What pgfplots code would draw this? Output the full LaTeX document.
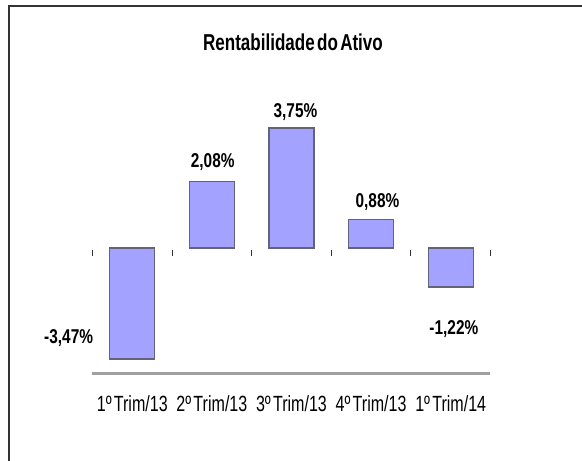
\documentclass[border=0pt]{standalone}
\usepackage{fontspec}
\setmainfont{Liberation Sans}
\newfontfamily\titlefont{Liberation Sans}[FakeStretch=0.74,WordSpace=0.5]
\newfontfamily\labelfont{Liberation Sans}[FakeStretch=0.77]
\newfontfamily\tickfont{Liberation Sans}[FakeStretch=0.73,WordSpace=0.5]
\usepackage{pgfplots}
\pgfplotsset{compat=1.18}
\definecolor{barfill}{RGB}{163,163,255}
\definecolor{baredge}{RGB}{100,100,120}
\definecolor{framecol}{RGB}{51,51,51}
\definecolor{basecol}{RGB}{160,160,160}

\begin{document}
\begin{tikzpicture}[x=1pt,y=1pt]
\useasboundingbox (0,0) rectangle (582,461);
% chart frame (top and left only)
\draw[framecol, line width=2pt] (8.5,0) -- (8.5,454.5) -- (582,454.5);
\node[font=\titlefont\bfseries\fontsize{23}{23}\selectfont, anchor=base] at (293,410) {Rentabilidade do Ativo};

\begin{axis}[at={(92.5pt,87.5pt)}, anchor=south west,
    scale only axis, width=398pt, height=269.5pt,
    xmin=0.5, xmax=5.5, ymin=-3.92, ymax=4.5,
    ybar, bar width=45pt, bar shift=0pt,
    axis y line=none, axis x line*=bottom,
    x axis line style={basecol, line width=3pt, -},
    xtick={1,2,3,4,5},
    xticklabels={1º Trim/13, 2º Trim/13, 3º Trim/13, 4º Trim/13, 1º Trim/14},
    major tick length=0pt,
    xticklabel style={font=\tickfont\fontsize{22}{22}\selectfont, anchor=base, yshift=-38.5pt},
    clip=false]

    \addplot[fill=barfill, draw=baredge, line width=1.2pt]
        coordinates {(1,-3.47) (2,2.08) (3,3.75) (4,0.88) (5,-1.22)};

    % small category separators below the zero line
    \pgfplotsinvokeforeach{0.5,1.5,2.5,3.5,4.5,5.5}{
        \draw[framecol, line width=1pt] ([yshift=-2pt]axis cs:#1,0) -- ([yshift=-8pt]axis cs:#1,0);
    }

    \tikzset{lab/.style={font=\labelfont\bfseries\fontsize{20}{20}\selectfont, anchor=base}}
    \node[lab] at (axis cs:0.2,-2.97) {-3,47\%};
    \node[lab] at (axis cs:2.01,2.53) {2,08\%};
    \node[lab] at (axis cs:3.05,4.09) {3,75\%};
    \node[lab] at (axis cs:4.08,1.28) {0,88\%};
    \node[lab] at (axis cs:5.04,-2.69) {-1,22\%};
\end{axis}
\end{tikzpicture}
\end{document}
